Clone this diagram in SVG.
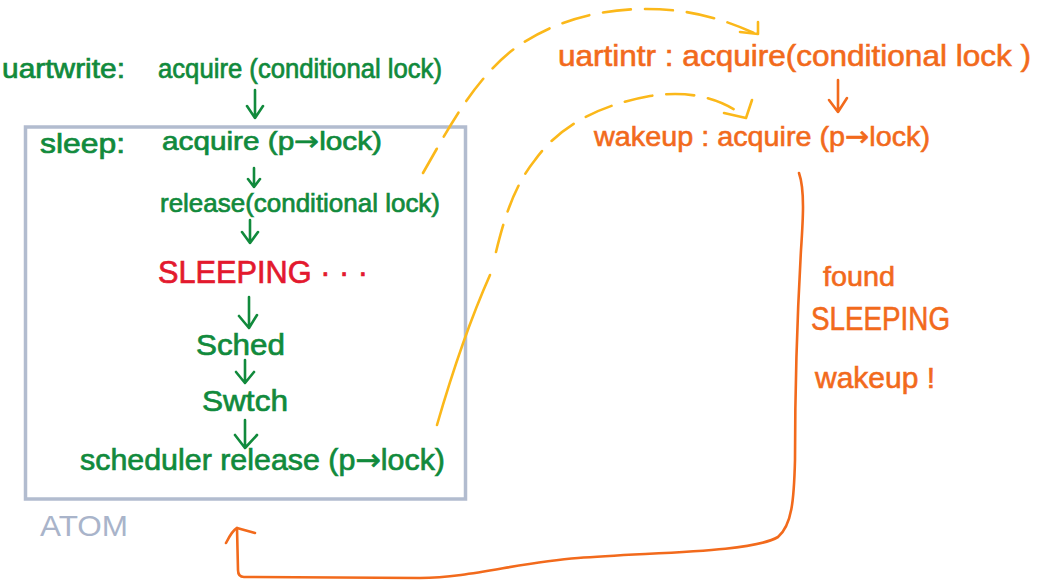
<svg xmlns="http://www.w3.org/2000/svg" width="1041" height="587" viewBox="0 0 1041 587">
<style>
text{font-family:"Liberation Sans","DejaVu Sans",sans-serif;}
.g{fill:#118a3c;stroke:#118a3c;stroke-width:0.7;}
.r{fill:#e3192e;stroke:#e3192e;stroke-width:0.7;}
.o{fill:#f26a1c;stroke:#f26a1c;stroke-width:0.6;}
.atom{fill:#a9b4ca;}
.arr{font-family:"DejaVu Sans",sans-serif;}
.ga{stroke:#118a3c;stroke-width:2.6;fill:none;stroke-linecap:round;stroke-linejoin:round;}
.oa{stroke:#f26a1c;stroke-width:2.6;fill:none;stroke-linecap:round;stroke-linejoin:round;}
.ya{stroke:#fbb81a;stroke-width:2.6;fill:none;stroke-linecap:round;stroke-linejoin:round;}
.dash{stroke-dasharray:28 14;}
</style>
<rect width="1041" height="587" fill="#ffffff"/>
<g id="atom-box">
<rect x="25.5" y="127" width="440" height="372" fill="none" stroke="#b2bccf" stroke-width="3.5"/>
<text class="atom" x="40" y="536" font-size="30" textLength="88" lengthAdjust="spacingAndGlyphs">ATOM</text>
</g>
<g id="uartwrite">
<text class="g" x="2" y="78" font-size="27" textLength="123" lengthAdjust="spacingAndGlyphs">uartwrite:</text>
<text class="g" x="158" y="78" font-size="27" textLength="284" lengthAdjust="spacingAndGlyphs">acquire (conditional lock)</text>
</g>
<g id="sleep-acquire">
<text class="g" x="40" y="153" font-size="28" textLength="85" lengthAdjust="spacingAndGlyphs">sleep:</text>
<text class="g" x="162" y="150" font-size="26" textLength="220" lengthAdjust="spacingAndGlyphs">acquire (p<tspan class="arr">→</tspan>lock)</text>
</g>
<g id="sleep-release">
<text class="g" x="160" y="212" font-size="26" textLength="280" lengthAdjust="spacingAndGlyphs">release(conditional lock)</text>
</g>
<g id="sleeping">
<text class="r" x="158" y="283" font-size="32" textLength="210" lengthAdjust="spacingAndGlyphs">SLEEPING · · ·</text>
</g>
<g id="sched">
<text class="g" x="196" y="355" font-size="30" textLength="89" lengthAdjust="spacingAndGlyphs">Sched</text>
</g>
<g id="swtch">
<text class="g" x="202" y="411" font-size="30" textLength="86" lengthAdjust="spacingAndGlyphs">Swtch</text>
</g>
<g id="scheduler-release">
<text class="g" x="80" y="470" font-size="30" textLength="365" lengthAdjust="spacingAndGlyphs">scheduler release (p<tspan class="arr">→</tspan>lock)</text>
</g>
<g id="uartintr">
<text class="o" x="558" y="66" font-size="29" textLength="473" lengthAdjust="spacingAndGlyphs">uartintr : acquire(conditional lock )</text>
</g>
<g id="wakeup-acquire">
<text class="o" x="594" y="146" font-size="28" textLength="336" lengthAdjust="spacingAndGlyphs">wakeup : acquire (p<tspan class="arr">→</tspan>lock)</text>
</g>
<g id="found-note">
<text class="o" x="823" y="286" font-size="27" textLength="72" lengthAdjust="spacingAndGlyphs">found</text>
<text class="o" x="811" y="330" font-size="33" textLength="139" lengthAdjust="spacingAndGlyphs">SLEEPING</text>
<text class="o" x="815" y="388" font-size="30" textLength="120" lengthAdjust="spacingAndGlyphs">wakeup !</text>
</g>
<g id="connectors">
<path class="ga" d="M255,90 L255,118 M247,106 L255,118 L263,106"/>
<path class="ga" d="M254,168 L254,187 M248,179 L254,187 L260,179"/>
<path class="ga" d="M250,220 L250,243 M242,232 L250,243 L258,232"/>
<path class="ga" d="M249,297 L249,328 M239,316 L249,328 L257,315"/>
<path class="ga" d="M245,360 L245,383 M236,372 L245,383 L254,372"/>
<path class="ga" d="M245,420 L245,448 M235,435 L245,448 L257,435"/>
<path class="oa" d="M838,80 L838,112 M829,100 L838,112 L847,98"/>
<path class="oa" d="M799,173 C805,190 803,220 801,250 C797,320 795,400 795,460 C794,500 792,525 778,537 C750,553 650,552 578,558 C520,562 470,578 420,578 L244,577 Q238,577 238,570 L237,528"/>
<path class="oa" d="M226,543 C230,535 233,530 237,528 L255,533"/>
<path class="ya dash" d="M423,173 C445,135 470,85 510,52 C545,25 590,10 640,9 C690,8 725,20 754,33"/>
<path class="ya" d="M740,32 L758,34 L758,22"/>
<path class="ya" d="M437,425 C450,380 470,320 490,275"/>
<path class="ya dash" d="M496,252 C505,215 515,185 535,160 C560,125 600,105 650,96 C690,90 720,98 744,116"/>
<path class="ya" d="M724,113 L746,118 L752,100"/>
</g>
</svg>
